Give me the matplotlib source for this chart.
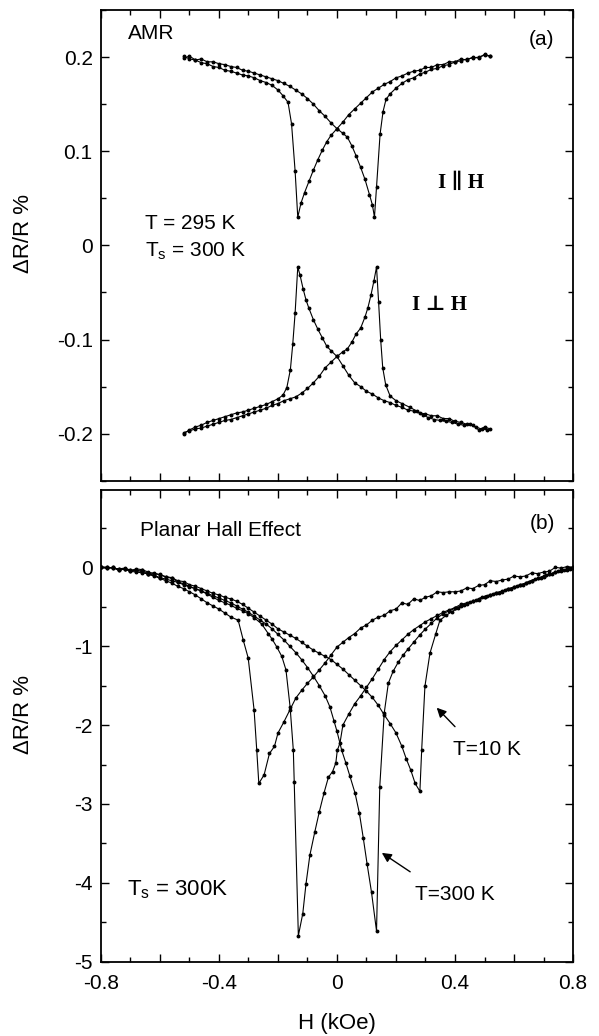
import numpy as np
import matplotlib
matplotlib.use('Agg')
import matplotlib.pyplot as plt
from matplotlib.ticker import MultipleLocator, FuncFormatter

plt.rcParams['font.family'] = ['Liberation Sans', 'DejaVu Sans']
plt.rcParams['axes.unicode_minus'] = False

# ---------------- (a) AMR data ----------------
par_down_h = [0.52, 0.50, 0.48, 0.46, 0.44, 0.42, 0.40, 0.38, 0.36, 0.34, 0.32, 0.30, 0.28, 0.26,
              0.24, 0.22, 0.20, 0.18, 0.16, 0.14, 0.12, 0.10, 0.08, 0.06, 0.04, 0.02, 0.00, -0.02,
              -0.035, -0.05, -0.065, -0.08, -0.095, -0.11, -0.122, -0.133, -0.142, -0.154, -0.166,
              -0.183, -0.20, -0.22, -0.24, -0.26, -0.28, -0.30, -0.32, -0.34, -0.36, -0.38, -0.40,
              -0.42, -0.44, -0.46, -0.48, -0.50, -0.52]
par_down_r = [0.201, 0.203, 0.199, 0.200, 0.197, 0.198, 0.195, 0.195, 0.192, 0.192, 0.189, 0.189,
              0.186, 0.185, 0.183, 0.180, 0.178, 0.174, 0.171, 0.167, 0.163, 0.157, 0.151, 0.145,
              0.139, 0.131, 0.124, 0.117, 0.110, 0.101, 0.091, 0.080, 0.068, 0.056, 0.045, 0.030,
              0.079, 0.129, 0.152, 0.159, 0.165, 0.170, 0.173, 0.175, 0.178, 0.180, 0.181, 0.183,
              0.185, 0.186, 0.189, 0.190, 0.193, 0.194, 0.197, 0.198, 0.201]

par_up_h = [-0.52, -0.50, -0.48, -0.46, -0.44, -0.42, -0.40, -0.38, -0.36, -0.34, -0.32, -0.30,
            -0.28, -0.26, -0.24, -0.22, -0.20, -0.18, -0.16, -0.14, -0.12, -0.10, -0.08, -0.06,
            -0.04, -0.02, 0.00, 0.02, 0.035, 0.05, 0.065, 0.08, 0.095, 0.11, 0.12, 0.127, 0.134,
            0.146, 0.156, 0.166, 0.18, 0.20, 0.22, 0.24, 0.26, 0.28, 0.30, 0.32, 0.34, 0.36, 0.38,
            0.40, 0.42, 0.44, 0.46, 0.48, 0.50, 0.52]
par_up_r = [0.199, 0.201, 0.197, 0.198, 0.195, 0.195, 0.193, 0.192, 0.190, 0.189, 0.186, 0.185,
            0.183, 0.181, 0.179, 0.177, 0.175, 0.172, 0.169, 0.165, 0.161, 0.156, 0.150, 0.143,
            0.137, 0.130, 0.124, 0.119, 0.115, 0.106, 0.095, 0.083, 0.070, 0.054, 0.043, 0.030,
            0.062, 0.118, 0.142, 0.155, 0.161, 0.167, 0.172, 0.176, 0.178, 0.182, 0.184, 0.187,
            0.188, 0.191, 0.192, 0.195, 0.196, 0.198, 0.199, 0.200, 0.202, 0.201]

perp_down_h = [0.52, 0.50, 0.48, 0.46, 0.44, 0.42, 0.40, 0.38, 0.36, 0.34, 0.32, 0.30, 0.28, 0.26,
               0.24, 0.22, 0.20, 0.18, 0.16, 0.14, 0.12, 0.10, 0.08, 0.06, 0.04, 0.02, 0.00, -0.02,
               -0.035, -0.05, -0.065, -0.08, -0.095, -0.105, -0.115, -0.125, -0.133, -0.142, -0.15,
               -0.158, -0.17, -0.183, -0.20, -0.22, -0.24, -0.26, -0.28, -0.30, -0.32, -0.34, -0.36,
               -0.38, -0.40, -0.42, -0.44, -0.46, -0.48, -0.50, -0.52]
perp_down_r = [-0.195, -0.193, -0.196, -0.191, -0.190, -0.188, -0.187, -0.184, -0.184, -0.181,
               -0.181, -0.179, -0.178, -0.176, -0.175, -0.172, -0.170, -0.167, -0.165, -0.162,
               -0.158, -0.155, -0.150, -0.146, -0.138, -0.128, -0.118, -0.112, -0.107, -0.098,
               -0.089, -0.079, -0.067, -0.058, -0.046, -0.032, -0.023, -0.072, -0.105, -0.132,
               -0.151, -0.159, -0.163, -0.166, -0.169, -0.171, -0.173, -0.175, -0.177, -0.178,
               -0.180, -0.182, -0.184, -0.186, -0.188, -0.191, -0.193, -0.196, -0.200]

perp_up_h = [-0.52, -0.50, -0.48, -0.46, -0.44, -0.42, -0.40, -0.38, -0.36, -0.34, -0.32, -0.30,
             -0.28, -0.26, -0.24, -0.22, -0.20, -0.18, -0.16, -0.14, -0.12, -0.10, -0.08, -0.06,
             -0.04, -0.02, 0.00, 0.02, 0.035, 0.05, 0.065, 0.08, 0.095, 0.105, 0.115, 0.125, 0.134,
             0.141, 0.148, 0.155, 0.165, 0.18, 0.20, 0.22, 0.247, 0.27, 0.29, 0.31, 0.33, 0.35, 0.37,
             0.39, 0.41, 0.43, 0.45, 0.47, 0.49, 0.51]
perp_up_r = [-0.199, -0.197, -0.195, -0.194, -0.192, -0.190, -0.188, -0.186, -0.185, -0.183,
             -0.181, -0.179, -0.177, -0.175, -0.173, -0.170, -0.168, -0.165, -0.163, -0.161,
             -0.157, -0.152, -0.146, -0.139, -0.130, -0.124, -0.118, -0.113, -0.110, -0.103,
             -0.094, -0.088, -0.076, -0.066, -0.053, -0.038, -0.023, -0.060, -0.100, -0.130,
             -0.148, -0.160, -0.165, -0.168, -0.172, -0.176, -0.180, -0.183, -0.185, -0.186,
             -0.187, -0.188, -0.190, -0.191, -0.190, -0.193, -0.195, -0.196]

# ---------------- (b) Planar Hall data ----------------
up10_h = [-0.80, -0.78, -0.76, -0.74, -0.72, -0.70, -0.68, -0.66, -0.64, -0.62, -0.60, -0.58, -0.56,
          -0.54, -0.52, -0.50, -0.48, -0.46, -0.44, -0.42, -0.40, -0.38, -0.36, -0.34, -0.32, -0.30,
          -0.28, -0.26, -0.24, -0.22, -0.20, -0.18, -0.16, -0.14, -0.12, -0.10, -0.08, -0.06, -0.04,
          -0.02, 0.00, 0.02, 0.04, 0.06, 0.08, 0.10, 0.12, 0.14, 0.16, 0.18, 0.20, 0.22, 0.235, 0.25,
          0.265, 0.281, 0.287, 0.298, 0.315, 0.335, 0.349, 0.37, 0.39, 0.41, 0.43, 0.45, 0.47, 0.49,
          0.51, 0.53, 0.55, 0.57, 0.59, 0.61, 0.63, 0.65, 0.67, 0.69, 0.71, 0.73, 0.75, 0.77, 0.79]
up10_r = [0.00, -0.01, 0.00, -0.04, -0.02, -0.03, -0.05, -0.04, -0.08, -0.07, -0.10, -0.12, -0.13,
          -0.17, -0.18, -0.22, -0.24, -0.27, -0.30, -0.33, -0.35, -0.38, -0.40, -0.43, -0.47, -0.52,
          -0.57, -0.62, -0.67, -0.72, -0.78, -0.82, -0.86, -0.90, -0.95, -1.00, -1.05, -1.09, -1.13,
          -1.17, -1.23, -1.29, -1.36, -1.43, -1.50, -1.57, -1.65, -1.75, -1.87, -1.98, -2.10, -2.27,
          -2.43, -2.57, -2.74, -2.84, -2.32, -1.51, -1.09, -0.84, -0.67, -0.61, -0.56, -0.52, -0.48,
          -0.44, -0.42, -0.38, -0.36, -0.34, -0.32, -0.29, -0.27, -0.24, -0.22, -0.18, -0.15, -0.13,
          -0.10, -0.08, -0.05, -0.04, -0.02]

down10_h = [0.80, 0.78, 0.76, 0.74, 0.72, 0.70, 0.68, 0.66, 0.64, 0.62, 0.60, 0.58, 0.56, 0.54, 0.52,
            0.50, 0.48, 0.46, 0.44, 0.42, 0.40, 0.38, 0.36, 0.34, 0.32, 0.30, 0.28, 0.26, 0.24, 0.22,
            0.20, 0.18, 0.16, 0.14, 0.12, 0.10, 0.08, 0.06, 0.04, 0.02, 0.00, -0.02, -0.04, -0.06,
            -0.08, -0.10, -0.12, -0.14, -0.16, -0.18, -0.20, -0.212, -0.229, -0.247, -0.265, -0.272,
            -0.281, -0.301, -0.318, -0.335, -0.36, -0.38, -0.40, -0.42, -0.44, -0.46, -0.48, -0.50,
            -0.52, -0.54, -0.56, -0.58, -0.60, -0.62, -0.64, -0.66, -0.68, -0.70, -0.72, -0.74, -0.76,
            -0.78, -0.80]
down10_r = [0.00, 0.01, -0.01, 0.00, -0.05, -0.06, -0.08, -0.07, -0.11, -0.12, -0.11, -0.15, -0.16,
            -0.18, -0.17, -0.22, -0.23, -0.27, -0.26, -0.30, -0.31, -0.31, -0.32, -0.31, -0.36, -0.38,
            -0.42, -0.40, -0.47, -0.45, -0.53, -0.55, -0.61, -0.63, -0.67, -0.73, -0.77, -0.84, -0.89,
            -0.95, -1.01, -1.11, -1.21, -1.30, -1.39, -1.47, -1.56, -1.66, -1.81, -1.96, -2.10, -2.27,
            -2.36, -2.63, -2.74, -2.32, -1.81, -1.15, -0.92, -0.67, -0.63, -0.58, -0.53, -0.49, -0.45,
            -0.40, -0.35, -0.31, -0.27, -0.24, -0.20, -0.17, -0.14, -0.11, -0.09, -0.06, -0.03, -0.05,
            -0.02, -0.03, 0.00, -0.01, 0.00]

up300_h = [-0.80, -0.78, -0.76, -0.74, -0.72, -0.70, -0.68, -0.66, -0.64, -0.62, -0.60, -0.58, -0.56,
           -0.54, -0.52, -0.50, -0.48, -0.46, -0.44, -0.42, -0.40, -0.38, -0.36, -0.34, -0.32, -0.30,
           -0.28, -0.26, -0.24, -0.22, -0.20, -0.18, -0.16, -0.14, -0.12, -0.10, -0.08, -0.06, -0.04,
           -0.024, -0.01, 0.00, 0.016, 0.03, 0.044, 0.061, 0.076, 0.089, 0.102, 0.117, 0.134, 0.145,
           0.160, 0.174, 0.19, 0.208, 0.225, 0.242, 0.26, 0.28, 0.30, 0.32, 0.34, 0.36, 0.38, 0.40,
           0.42, 0.44, 0.46, 0.48, 0.50, 0.52, 0.54, 0.56, 0.58, 0.60, 0.62, 0.64, 0.66, 0.68, 0.70,
           0.72, 0.74, 0.76, 0.78, 0.80]
up300_r = [0.00, 0.00, -0.01, -0.02, -0.02, -0.05, -0.06, -0.07, -0.08, -0.10, -0.13, -0.15, -0.17,
           -0.19, -0.22, -0.25, -0.27, -0.30, -0.33, -0.36, -0.39, -0.42, -0.45, -0.49, -0.53, -0.57,
           -0.62, -0.67, -0.72, -0.78, -0.85, -0.92, -1.00, -1.08, -1.17, -1.27, -1.38, -1.50, -1.63,
           -1.77, -1.95, -2.08, -2.32, -2.48, -2.65, -2.86, -3.12, -3.43, -3.76, -4.12, -4.61, -2.78,
           -1.85, -1.47, -1.32, -1.20, -1.11, -1.03, -0.95, -0.86, -0.78, -0.71, -0.64, -0.59, -0.55,
           -0.52, -0.49, -0.46, -0.43, -0.40, -0.37, -0.35, -0.32, -0.30, -0.27, -0.25, -0.23, -0.20,
           -0.17, -0.14, -0.12, -0.09, -0.06, -0.05, -0.03, -0.01]

down300_h = [0.80, 0.78, 0.76, 0.74, 0.72, 0.70, 0.68, 0.66, 0.64, 0.62, 0.60, 0.58, 0.56, 0.54,
             0.52, 0.50, 0.48, 0.46, 0.44, 0.42, 0.40, 0.38, 0.36, 0.34, 0.32, 0.30, 0.28, 0.26, 0.24,
             0.22, 0.20, 0.18, 0.16, 0.14, 0.12, 0.10, 0.08, 0.06, 0.04, 0.02, 0.01, 0.001, -0.004,
             -0.015, -0.029, -0.044, -0.060, -0.075, -0.092, -0.105, -0.116, -0.131, -0.145, -0.148,
             -0.159, -0.173, -0.187, -0.204, -0.22, -0.233, -0.255, -0.28, -0.30, -0.32, -0.34, -0.36,
             -0.38, -0.40, -0.42, -0.44, -0.46, -0.48, -0.50, -0.52, -0.54, -0.56, -0.58, -0.60,
             -0.62, -0.64, -0.66, -0.68, -0.70, -0.72, -0.74, -0.76, -0.78, -0.80]
down300_r = [0.00, -0.02, -0.04, -0.06, -0.09, -0.11, -0.14, -0.17, -0.20, -0.22, -0.25, -0.28,
             -0.31, -0.33, -0.35, -0.38, -0.41, -0.43, -0.45, -0.47, -0.51, -0.54, -0.57, -0.61,
             -0.65, -0.69, -0.74, -0.79, -0.85, -0.92, -0.99, -1.07, -1.17, -1.29, -1.41, -1.52,
             -1.63, -1.73, -1.86, -2.00, -2.23, -2.32, -2.48, -2.59, -2.66, -2.86, -3.10, -3.35,
             -3.65, -4.01, -4.39, -4.67, -2.72, -2.32, -1.77, -1.30, -1.13, -1.01, -0.91, -0.84,
             -0.72, -0.64, -0.59, -0.55, -0.52, -0.48, -0.45, -0.42, -0.38, -0.34, -0.30, -0.27,
             -0.24, -0.21, -0.18, -0.14, -0.12, -0.09, -0.08, -0.06, -0.03, -0.02, -0.04, -0.01,
             -0.02, -0.01, 0.00, 0.00]


def style_axis(ax, ylim, ymajor, yminor):
    ax.set_xlim(-0.8, 0.8)
    ax.set_ylim(*ylim)
    ax.xaxis.set_major_locator(MultipleLocator(0.2))
    ax.xaxis.set_minor_locator(MultipleLocator(0.1))
    ax.yaxis.set_major_locator(MultipleLocator(ymajor))
    ax.yaxis.set_minor_locator(MultipleLocator(yminor))
    ax.tick_params(which='both', direction='in', top=True, right=True, labelsize=15)
    ax.tick_params(axis='y', pad=6)
    ax.tick_params(axis='x', pad=9)
    ax.tick_params(which='major', length=6, width=1)
    ax.tick_params(which='minor', length=3.5, width=1)
    for s in ax.spines.values():
        s.set_linewidth(1.3)
    ax.set_ylabel('ΔR/R %', fontsize=16)
    ax.yaxis.set_label_coords(-0.142, 0.525)


def plot_curve(ax, h, r):
    ax.plot(h, r, '-', color='black', lw=0.8, marker='o', ms=1.8, mfc='black', mec='black')


fig = plt.figure(figsize=(5.99, 10.36), dpi=100)
ax1 = fig.add_axes([0.1686, 0.536, 0.788, 0.4543])
ax2 = fig.add_axes([0.1686, 0.0717, 0.788, 0.4553])

# panel (a)
for h, r in [(par_down_h, par_down_r), (par_up_h, par_up_r),
             (perp_down_h, perp_down_r), (perp_up_h, perp_up_r)]:
    plot_curve(ax1, h, r)
style_axis(ax1, (-0.25, 0.25), 0.1, 0.05)
ax1.yaxis.set_major_formatter(FuncFormatter(lambda v, p: '0' if abs(v) < 1e-9 else f'{v:.1f}'))
ax1.tick_params(labelbottom=False)

ax1.text(-0.708, 0.225, 'AMR', fontsize=15, va='center')
ax1.text(0.651, 0.219, '(a)', fontsize=15, va='center')
ax1.text(-0.651, 0.023, 'T = 295 K', fontsize=15, va='center')
ax1.text(-0.651, -0.006, r'T$_{\mathregular{s}}$ = 300 K', fontsize=15, va='center')
ax1.text(0.342, 0.066, 'I ∥ H', fontsize=15, fontweight='bold', va='center',
         family=['Liberation Serif', 'DejaVu Serif'])
ax1.text(0.253, -0.063, 'I ⊥ H', fontsize=15, fontweight='bold', va='center',
         family=['Liberation Serif', 'DejaVu Serif'])

# panel (b)
for h, r in [(up10_h, up10_r), (down10_h, down10_r), (up300_h, up300_r), (down300_h, down300_r)]:
    plot_curve(ax2, h, r)
style_axis(ax2, (-5, 0.98), 1, 0.5)
ax2.xaxis.set_major_formatter(FuncFormatter(
    lambda v, p: ('0' if abs(v) < 1e-9 else f'{v:.1f}') if abs(round(v / 0.4) * 0.4 - v) < 1e-6 else ''))
ax2.yaxis.set_major_formatter(FuncFormatter(lambda v, p: f'{v:.0f}'))
ax2.set_xlabel('H (kOe)', fontsize=16, labelpad=14)

ax2.text(-0.668, 0.47, 'Planar Hall Effect', fontsize=15, va='center')
ax2.text(0.654, 0.56, '(b)', fontsize=15, va='center')
ax2.text(-0.712, -4.09, r'T$_{\mathregular{s}}$ = 300K', fontsize=16, va='center')
ax2.text(0.393, -2.31, 'T=10 K', fontsize=15, va='center')
ax2.text(0.264, -4.15, 'T=300 K', fontsize=15, va='center')
arrow = dict(arrowstyle='-|>', color='black', lw=1.0, mutation_scale=14, shrinkA=0, shrinkB=0)
ax2.annotate('', xy=(0.338, -1.78), xytext=(0.40, -2.02), arrowprops=arrow)
ax2.annotate('', xy=(0.152, -3.62), xytext=(0.248, -3.86), arrowprops=arrow)

fig.savefig('out.png', dpi=100)
